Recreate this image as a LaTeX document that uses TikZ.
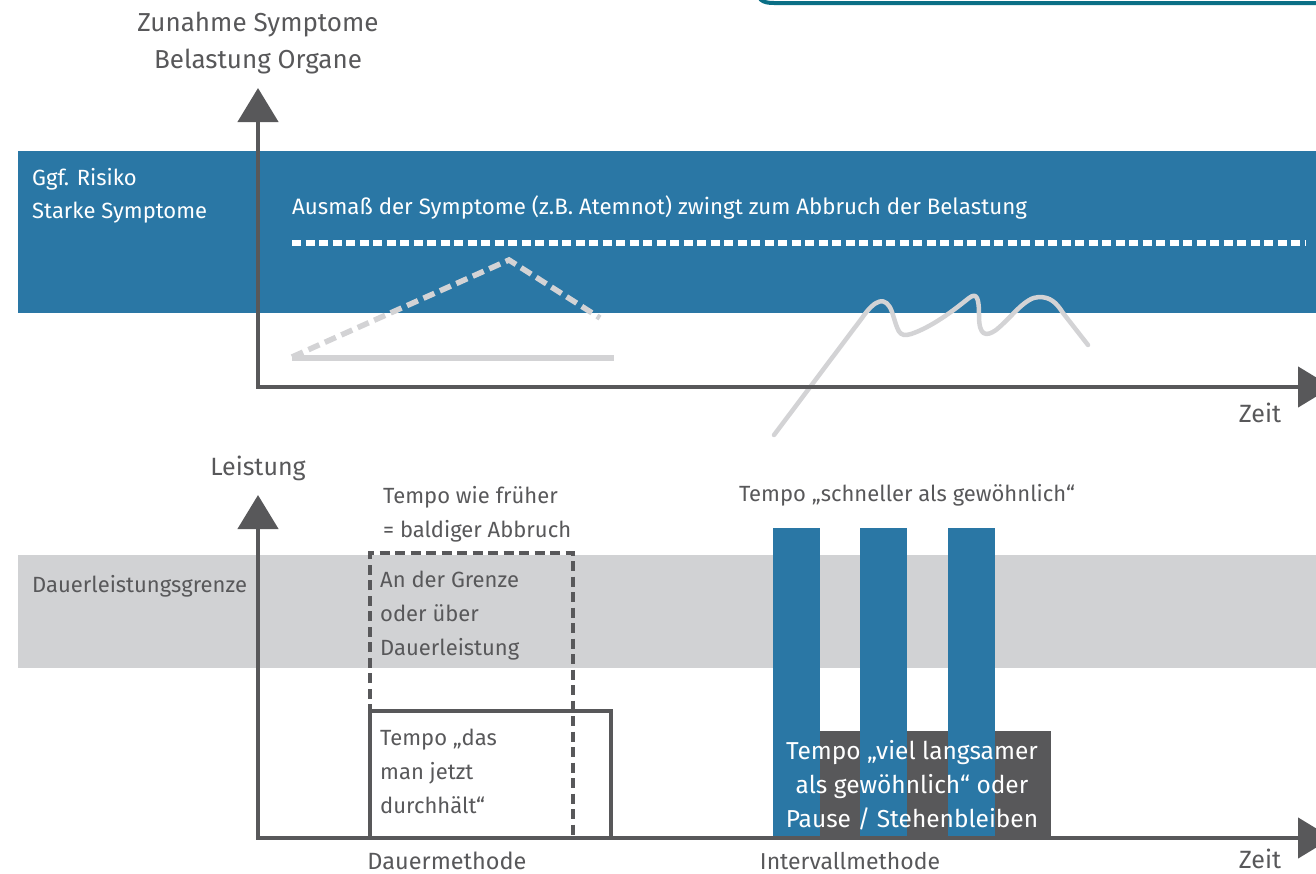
\documentclass[tikz,border=0pt]{standalone}
\usepackage{fontspec}
\setmainfont{Fira Sans}
\usetikzlibrary{arrows.meta}
\definecolor{cblue}{HTML}{2A77A5}
\definecolor{cgrey}{HTML}{58585A}
\definecolor{cband}{HTML}{D1D2D4}
\definecolor{ccurve}{HTML}{D3D3D5}
\definecolor{cteal}{HTML}{0B6F86}
\newcommand{\myfs}[2]{\fontsize{#1}{#2}\selectfont}
\tikzset{
  txt/.style={inner sep=0, text=cgrey},
  wtxt/.style={inner sep=0, text=white},
  axis/.style={draw=cgrey, line width=4.6pt, line join=miter,
    {Triangle[length=34pt,width=40pt]}-{Triangle[length=34pt,width=40pt]}},
  light/.style={draw=ccurve, line width=5.5pt},
}
\begin{document}
\begin{tikzpicture}[x=1pt,y=-1pt]
\useasboundingbox (0,0) rectangle (1316,873);
\clip (0,0) rectangle (1316,873);
% top-right frame edge
\coordinate (fa) at (757,-14);
\coordinate (fb) at (1320,3);
\draw[cteal, line width=4pt] (fa) .. controls (757,0) and (762,3) .. (774,3) -- (fb);
% bands
\fill[cblue] (18,151) rectangle (1316,313);
\fill[cband] (18,555) rectangle (1316,668);
% top chart
\coordinate (o1) at (258,387);
\coordinate (y1) at (258,88);
\coordinate (x1) at (1332,387);
\coordinate (da) at (292,243);
\coordinate (db) at (1305,243);
\draw[white, line width=5.5pt, dash pattern=on 9pt off 4.5pt] (da) -- (db);
\coordinate (ta) at (292,357);
\coordinate (tb) at (509,260);
\coordinate (tc) at (600,318);
\draw[light, dash pattern=on 12pt off 6pt] (ta) -- (tb) -- (tc);
\coordinate (sa) at (292,358);
\coordinate (sb) at (614,358);
\draw[light] (sa) -- (sb);
\coordinate (ca) at (774,435);
\coordinate (cb) at (1088,345);
\draw[draw=ccurve, line width=4.5pt, line cap=round, line join=round]
  (ca) -- (862,318) .. controls (875,299) and (886,295) .. (892,312)
  .. controls (898,330) and (898,338) .. (911,334)
  .. controls (935,326) and (960,305) .. (969,298)
  .. controls (977,292) and (979,298) .. (979,316)
  .. controls (979,336) and (986,337) .. (996,330)
  .. controls (1011,318) and (1025,297) .. (1039,297)
  .. controls (1050,297) and (1056,302) .. (1063,313) -- (cb);
\draw[axis] (y1) -- (o1) -- (x1);
\node[txt, anchor=base] (tl1) at (258,31) {\myfs{26}{30}Zunahme Symptome};
\node[txt, anchor=base] (tl2) at (258,68) {\myfs{26}{30}Belastung Organe};
\node[wtxt, anchor=base west] (risk) at (32,185) {\parbox[t]{250pt}{\raggedright\myfs{22}{33}Ggf. Risiko\\Starke Symptome}};
\node[wtxt, anchor=base west] (ausm) at (292,214) {\myfs{22.3}{30}Ausmaß der Symptome (z.B. Atemnot) zwingt zum Abbruch der Belastung};
\node[txt, anchor=base] (zeit1) at (1260,422) {\myfs{25}{30}Zeit};
% bottom chart
\coordinate (o2) at (258,838);
\coordinate (y2) at (258,495);
\coordinate (x2) at (1332,838);
\node[txt, anchor=base] (leist) at (258,475) {\myfs{25}{30}Leistung};
\node[txt, anchor=base west] (dlg) at (32,592) {\myfs{22}{30}Dauerleistungsgrenze};
\node[txt, anchor=base west] (twf) at (383,503) {\parbox[t]{250pt}{\raggedright\myfs{22}{34}Tempo wie früher\\= baldiger Abbruch}};
\node[txt, anchor=base] (tsch) at (907,501) {\myfs{22}{30}Tempo „schneller als gewöhnlich“};
% Dauermethode boxes
\coordinate (sbA) at (370,838);
\coordinate (sbB) at (611,711);
\draw[cgrey, line width=4pt] (sbA) -- (370,711) -- (sbB) -- (611,838);
\node[txt, anchor=base west] (tdas) at (380,745) {\parbox[t]{200pt}{\raggedright\myfs{22}{34}Tempo „das\\man jetzt\\durchhält“}};
\coordinate (dbA) at (370,838);
\coordinate (dbB) at (573,838);
\draw[cgrey, line width=4pt, dash pattern=on 10pt off 5.5pt] (dbA) -- (370,553) -- (573,553) -- (dbB);
\node[txt, anchor=base west] (adg) at (380,587) {\parbox[t]{200pt}{\raggedright\myfs{22}{34}An der Grenze\\oder über\\Dauerleistung}};
% Intervall
\fill[cgrey] (820,731) rectangle (1051,836);
\fill[cblue] (773,528) rectangle (820,836);
\fill[cblue] (860,528) rectangle (907,836);
\fill[cblue] (948,528) rectangle (995,836);
\node[wtxt, anchor=base] (tvl) at (912,759) {\parbox[t]{300pt}{\centering\myfs{24.5}{34}Tempo „viel langsamer\\als gewöhnlich“ oder\\Pause / Stehenbleiben}};
\draw[axis] (y2) -- (o2) -- (x2);
\node[txt, anchor=base] (dm) at (447,869) {\myfs{23.5}{30}Dauermethode};
\node[txt, anchor=base] (im) at (850,869) {\myfs{23}{30}Intervallmethode};
\node[txt, anchor=base] (zeit2) at (1260,868) {\myfs{25}{30}Zeit};
\end{tikzpicture}
\end{document}
